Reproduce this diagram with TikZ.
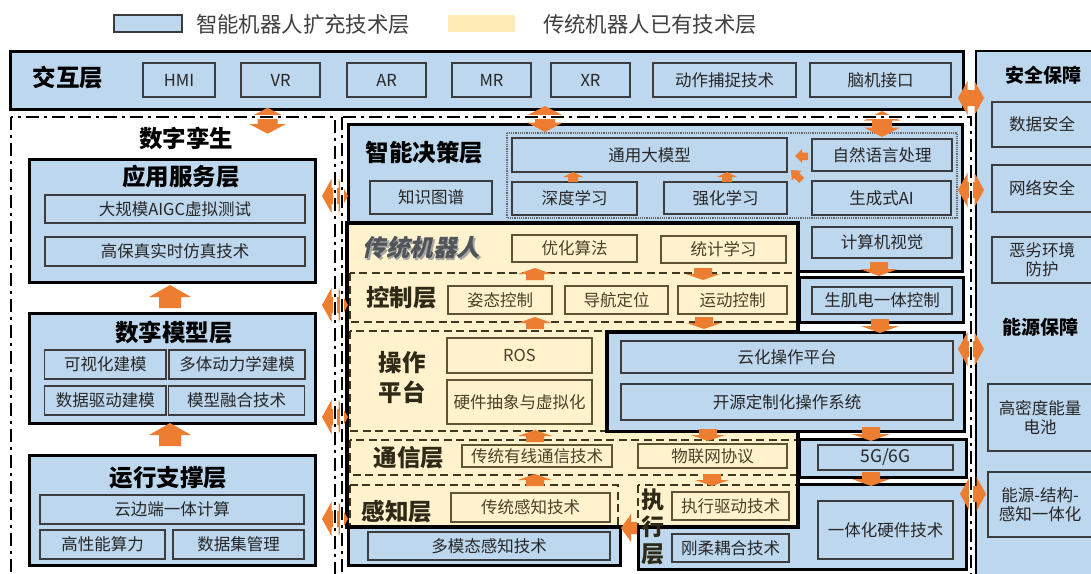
\documentclass[tikz,border=0pt]{standalone}
\usepackage{fontspec}
\setmainfont{Noto Sans CJK SC}
\newfontfamily\slantcjk[FakeSlant=0.22]{Noto Sans CJK SC}
\definecolor{cblue}{HTML}{BDD7EE}
\definecolor{cyel}{HTML}{FFF2CC}
\definecolor{cyleg}{HTML}{FFEBB6}
\definecolor{corg}{HTML}{ED7D31}
\definecolor{subb}{HTML}{3C3C3C}
\definecolor{txt}{HTML}{262626}
\definecolor{legtxt}{HTML}{404040}
\definecolor{yb}{HTML}{5E5333}
\definecolor{ytxt}{HTML}{4A4128}
\definecolor{ytitle}{HTML}{2E2A17}
\definecolor{ydashc}{HTML}{3F3820}
\definecolor{robtxt}{HTML}{50555A}
\newcommand\fs[1]{\fontsize{#1}{\dimexpr #1pt*23/20\relax}\selectfont}
\newcommand\mkbox[7][]{%
  \pgfmathsetmacro\mkbw{#5-#3}\pgfmathsetmacro\mkbh{#6-#4}%
  \node[#1, minimum width=\mkbw pt, minimum height=\mkbh pt, anchor=north west] (#2) at (#3,#4) {#7};}
\newcommand\vdbl[2]{\fill[corg,shift={(#1,#2)}] (0,-13) -- (18,-3.5) -- (10,-3.5) -- (10,3.5) -- (18,3.5) -- (0,13) -- (-18,3.5) -- (-10,3.5) -- (-10,-3.5) -- (-18,-3.5) -- cycle;}
\newcommand\hdbl[2]{\fill[corg,shift={(#1,#2)}] (-13,0) -- (-3.5,-17) -- (-3.5,-8) -- (3.5,-8) -- (3.5,-17) -- (13,0) -- (3.5,17) -- (3.5,8) -- (-3.5,8) -- (-3.5,17) -- cycle;}
\newcommand\bigup[2]{\fill[corg,shift={(#1,#2)}] (0,0) -- (21,12) -- (11,12) -- (11,23) -- (-11,23) -- (-11,12) -- (-21,12) -- cycle;}
\newcommand\upsm[2]{\fill[corg,shift={(#1,#2)}] (0,0) -- (17,6) -- (9,6) -- (9,12) -- (-9,12) -- (-9,6) -- (-17,6) -- cycle;}
\newcommand\dnsm[2]{\fill[corg,shift={(#1,#2)}] (0,0) -- (17,-6) -- (9,-6) -- (9,-12) -- (-9,-12) -- (-9,-6) -- (-17,-6) -- cycle;}
\newcommand\dnmd[2]{\fill[corg,shift={(#1,#2)}] (0,0) -- (19,-7) -- (9,-7) -- (9,-14) -- (-9,-14) -- (-9,-7) -- (-19,-7) -- cycle;}
\newcommand\uptiny[2]{\fill[corg,shift={(#1,#2)}] (0,0) -- (10,5) -- (5,5) -- (5,10) -- (-5,10) -- (-5,5) -- (-10,5) -- cycle;}
\tikzset{
  every node/.style={inner sep=0pt, outer sep=0pt},
  cont/.style={draw=black, line width=3pt, fill=cblue},
  sub/.style={draw=subb, line width=1.3pt, fill=cblue, text=txt, font=\fs{16.5}, align=center},
  ysub/.style={draw=yb, line width=1.3pt, fill=cyel, text=ytxt, font=\fs{16.5}, align=center},
  ttl/.style={font=\bfseries\fs{23.5}, text=black, align=center},
  yttl/.style={font=\bfseries\fs{23.5}, text=ytitle, align=center},
  ydash/.style={draw=ydashc, line width=2pt, dash pattern=on 8pt off 4.5pt},
  dashdot/.style={draw=black, line width=2.6pt, dash pattern=on 13pt off 5pt on 3pt off 5pt},
  halo/.style={draw=white, line width=3.6pt},
}
\begin{document}
\begin{tikzpicture}[x=1pt,y=-1pt]
\useasboundingbox (0,0) rectangle (1091,573);
\fill[white] (0,0) rectangle (1091,573);
\clip (0,0) rectangle (1091,573);

% legend
\mkbox[draw=subb, line width=1.2pt, fill=cblue]{lg1}{114}{15}{182}{32}{}
\node[anchor=west, text=legtxt, font=\fs{21.4}] (lg1t) at (196,24) {智能机器人扩充技术层};
\mkbox[fill=cyleg]{lg2}{448}{15}{515}{32}{}
\node[anchor=west, text=legtxt, font=\fs{21.4}] (lg2t) at (543,24) {传统机器人已有技术层};

% security / energy column
\mkbox[cont, line width=2pt]{sec}{976}{51}{1100}{600}{}
\node[font=\bfseries\fs{19}, text=black] (secT) at (1043,75) {安全保障};
\mkbox[sub]{sj}{992}{102}{1092}{147}{数据安全}
\mkbox[sub]{wl}{992}{165}{1092}{212}{网络安全}
\mkbox[sub]{el}{992}{237}{1092}{283}{恶劣环境\\防护}
\node[font=\bfseries\fs{19}, text=black] (enT) at (1040,327) {能源保障};
\mkbox[sub]{gm}{988}{384}{1092}{451}{高密度能量\\电池}
\mkbox[sub]{ny}{988}{472}{1092}{537}{能源-结构-\\感知一体化}

% interaction layer
\mkbox[cont]{jh}{10}{51}{963}{109}{}
\node[ttl] (jhT) at (68,78) {交互层};
\mkbox[sub]{hmi}{143}{63}{215}{97}{HMI}
\mkbox[sub]{vr}{241}{63}{320}{97}{VR}
\mkbox[sub]{ar}{347}{63}{426}{97}{AR}
\mkbox[sub]{mr}{452}{63}{531}{97}{MR}
\mkbox[sub]{xr}{551}{63}{630}{97}{XR}
\mkbox[sub]{dz}{653}{63}{796}{97}{动作捕捉技术}
\mkbox[sub]{nj}{810}{63}{951}{97}{脑机接口}

% digital twin column
\node[ttl] (szT) at (186,138) {数字孪生};
\mkbox[cont]{yy}{29}{159}{315}{282}{}
\node[ttl] (yyT) at (181,177) {应用服务层};
\mkbox[sub]{aigc}{45}{195}{305}{223}{大规模AIGC虚拟测试}
\mkbox[sub]{gbz}{45}{237}{305}{266}{高保真实时仿真技术}
\mkbox[cont]{sl}{29}{313}{315}{423}{}
\node[ttl] (slT) at (174,333) {数孪模型层};
\mkbox[sub]{ksh}{44.5}{350}{166}{379}{可视化建模}
\mkbox[sub]{dt}{169}{350}{305}{379}{多体动力学建模}
\mkbox[sub]{sjqd}{44.5}{386}{166}{415}{数据驱动建模}
\mkbox[sub]{mxrh}{168.6}{386}{304.5}{415}{模型融合技术}
\mkbox[cont]{yx}{29}{455}{315}{565}{}
\node[ttl] (yxT) at (168.6,478) {运行支撑层};
\mkbox[sub]{ybd}{40}{495}{304}{524}{云边端一体计算}
\mkbox[sub]{gxn}{40}{530}{165}{559}{高性能算力}
\mkbox[sub]{sjj}{173}{530}{304}{559}{数据集管理}
\bigup{170}{285}
\bigup{170}{423}

% decision layer
\mkbox[cont]{jc}{348}{124}{962}{271}{}
\node[ttl] (jcT) at (424.5,153) {智能决策层};
\mkbox[sub]{zs}{370}{181}{492}{214}{知识图谱}
\draw[black!60, densely dotted, line width=1.2pt] (507,133) rectangle (957,218);
\mkbox[sub]{ty}{512}{138}{787}{172}{通用大模型}
\mkbox[sub]{sd}{512}{182}{637}{215}{深度学习}
\mkbox[sub]{qh}{664}{182}{787}{214}{强化学习}
\mkbox[sub]{zr}{812}{139}{952}{171}{自然语言处理}
\mkbox[sub]{sc}{812}{181}{951}{215}{生成式AI}
\mkbox[sub]{js}{812}{227}{952}{258}{计算机视觉}
\uptiny{573}{172}
\uptiny{727}{172}
\fill[corg] (795,156) -- (802,149) -- (802,152.5) -- (808,152.5) -- (808,160) -- (802,160) -- (802,163) -- cycle;
\fill[corg] (791,170) -- (801.6,170.8) -- (799.2,173.2) -- (804.1,178.1) -- (799.1,183.1) -- (794.2,178.2) -- (791.8,180.6) -- cycle;

% right column containers
\mkbox[cont]{sj2}{799}{277}{963}{322}{}
\mkbox[sub]{sjd}{812}{287}{952}{314}{生肌电一体控制}
\mkbox[cont]{zx}{638}{484}{966}{569}{}
\mkbox[sub]{yth}{818}{501}{953}{559}{一体化硬件技术}
\mkbox[sub]{grh}{672}{534}{789}{562}{刚柔耦合技术}
\mkbox[cont]{dm}{348}{515}{620}{565}{}
\mkbox[sub]{dmt}{368}{532}{610}{560}{多模态感知技术}
\mkbox[cont]{g5}{799}{439}{966}{477}{}
\mkbox[sub, font=\fs{17.5}]{g5t}{818}{445}{953}{470}{5G/6G}

% traditional robot region
\fill[cyel] (347,223) -- (798,223) -- (798,332) -- (607,332) -- (607,431) -- (798,431) -- (798,527) -- (347,527) -- cycle;
\draw[ydash] (350,273) rectangle (797,322);
\draw[ydash] (350,331) rectangle (607,431);
\draw[ydash] (350,440) rectangle (797,475);
\draw[ydash] (350,485) rectangle (618,527);
\draw[ydash] (638,485) rectangle (797,527);
\draw[black, line width=3.5pt, line join=miter] (347,223) -- (798,223) -- (798,332) -- (607,332) -- (607,431) -- (798,431) -- (798,527) -- (347,527) -- cycle;
\mkbox[cont]{yc}{607}{332}{964}{431}{}
\mkbox[sub]{yczt}{621}{341}{953}{373}{云化操作平台}
\mkbox[sub]{ky}{621}{384}{953}{420}{开源定制化操作系统}

\node[font=\bfseries\fs{23.5}, text=black!35] at (423,249.5) {\slantcjk\bfseries 传统机器人};
\node[font=\bfseries\fs{23.5}, text=robtxt] (ctT) at (421.5,248) {\slantcjk\bfseries 传统机器人};
\mkbox[ysub]{yh}{512}{235}{637}{262}{优化算法}
\mkbox[ysub]{tj}{661}{236}{786}{263}{统计学习}
\node[yttl] (kzT) at (401.7,298) {控制层};
\mkbox[ysub]{zt}{448}{286}{552}{314}{姿态控制}
\mkbox[ysub]{dh}{565}{286}{668}{314}{导航定位}
\mkbox[ysub]{yd}{678}{286}{787}{314}{运动控制}
\node[yttl, font=\bfseries\fontsize{23.5}{30}\selectfont] (czT) at (402,378) {操作\\平台};
\mkbox[ysub]{ros}{447}{338}{592}{373}{ROS}
\mkbox[ysub]{yj}{447}{380}{592}{424}{硬件抽象与虚拟化}
\node[yttl] (txT) at (409,458) {通信层};
\mkbox[ysub]{yx2}{462}{445}{612}{467}{传统有线通信技术}
\mkbox[ysub]{wlw}{638}{444}{787}{468}{物联网协议}
\node[yttl] (gzT) at (397,512) {感知层};
\mkbox[ysub]{ctgz}{451}{493}{610}{522}{传统感知技术}
\mkbox[ysub]{zxqd}{672}{492}{789}{520}{执行驱动技术}
\node[yttl, font=\bfseries\fontsize{23}{27}\selectfont] (zxT) at (653,527) {执\\行\\层};

% arrows inside traditional region
\upsm{535}{268}
\dnsm{703}{280}
\upsm{535}{317}
\dnsm{704}{329}
\upsm{535}{430}
\dnsm{708}{441}
\upsm{535}{474}
\dnsm{712}{486}
\fill[corg] (621,528) -- (631,514) -- (631,522) -- (637,522) -- (637,534) -- (631,534) -- (631,542) -- cycle;
% arrows right column
\dnmd{879}{276}
\dnmd{880}{333}
\dnmd{871}{441}
\dnmd{871}{486}

% double arrows
\vdbl{267.6}{120.7}
\vdbl{545}{119}
\vdbl{882}{124}
\hdbl{335}{196}
\hdbl{335}{305}
\hdbl{335}{417}
\hdbl{335}{519}
\hdbl{971}{98}
\hdbl{971}{190}
\hdbl{971}{349}
\hdbl{973}{494}

% dash-dot frames (with a thin white band beneath)
\draw[halo] (11,117) rectangle (335,600);
\draw[halo] (342,117) rectangle (971,600);
\draw[dashdot] (11,117) rectangle (335,600);
\draw[dashdot] (342,117) rectangle (971,600);
\end{tikzpicture}
\end{document}
